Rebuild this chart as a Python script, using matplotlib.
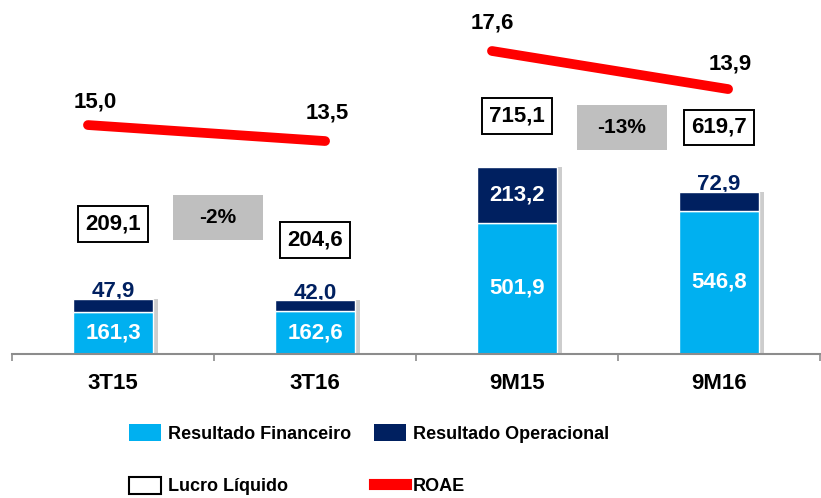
import matplotlib.pyplot as plt
from matplotlib.patches import Patch, Rectangle
from matplotlib.lines import Line2D

plt.rcParams['font.family'] = ['Liberation Sans', 'DejaVu Sans']

categories = ['3T15', '3T16', '9M15', '9M16']
financeiro = [161.3, 162.6, 501.9, 546.8]
operacional = [47.9, 42.0, 213.2, 72.9]
lucro = [209.1, 204.6, 715.1, 619.7]
roae_3t = [15.0, 13.5]
roae_9m = [17.6, 13.9]
variacao = ['-2%', '-13%']

LIGHT = '#00B0F0'
NAVY = '#002060'
RED = '#FF0000'
GRAY = '#BFBFBF'


def fmt(v):
    return f'{v:.1f}'.replace('.', ',')


fig = plt.figure(figsize=(8.21, 4.98), dpi=100)
ax = fig.add_axes([12 / 821, 144 / 498, 808 / 821, 354 / 498])
ax.set_xlim(-0.5, 3.5)
ax.set_ylim(0, 1353)

x = list(range(len(categories)))
w = 0.4

# shadow behind bars
ax.bar([i + 0.022 for i in x], lucro, w, color='#cdcdcd', zorder=1)
ax.bar(x, financeiro, w, color=LIGHT, edgecolor='white', linewidth=1, zorder=2)
ax.bar(x, operacional, w, bottom=financeiro, color=NAVY, edgecolor='white',
       linewidth=1, zorder=2)

for i in x:
    ax.text(i, financeiro[i] / 2, fmt(financeiro[i]), color='white',
            fontsize=16, fontweight='bold', ha='center', va='center', zorder=3)
    if operacional[i] > 100:
        ax.text(i, financeiro[i] + operacional[i] / 2, fmt(operacional[i]),
                color='white', fontsize=16, fontweight='bold',
                ha='center', va='center', zorder=3)
    else:
        ax.text(i, lucro[i] - 10, fmt(operacional[i]), color=NAVY,
                fontsize=16, fontweight='bold', ha='center', va='bottom',
                zorder=1.5)

# lucro liquido boxes
lucro_dy = [288, 231, 195, 246]
for i in x:
    ax.text(i, lucro[i] + lucro_dy[i], fmt(lucro[i]), fontsize=16,
            fontweight='bold', ha='center', va='center', zorder=4,
            bbox=dict(boxstyle='square,pad=0.33', fc='white', ec='black', lw=1.4))

# variation boxes
var_pos = [(0.52, 520), (2.52, 866)]
for (vx, vy), txt in zip(var_pos, variacao):
    ax.add_patch(Rectangle((vx - 0.223, vy - 86), 0.446, 172, fc=GRAY, ec='none',
                           zorder=3))
    ax.text(vx, vy, txt, fontsize=15, fontweight='bold', ha='center',
            va='center', zorder=4)

# axis style
for s in ['top', 'left', 'right']:
    ax.spines[s].set_visible(False)
ax.spines['bottom'].set_color('#8c8c8c')
ax.spines['bottom'].set_linewidth(1.5)
ax.set_yticks([])
ax.set_xticks(x, categories)
ax.tick_params(axis='x', length=0, pad=14, labelsize=16)
for lbl in ax.get_xticklabels():
    lbl.set_fontweight('bold')
ax.set_xticks([-0.5, 0.5, 1.5, 2.5, 3.5], minor=True)
ax.tick_params(axis='x', which='minor', length=5, width=1.2, color='#8c8c8c')

# ROAE lines (separate scales for each period)
ax2 = ax.twinx()
ax2.set_ylim(-6.46, 26.72)
ax3 = ax.twinx()
ax3.set_ylim(-11.82, 22.55)
roae_dy = [(5, 16.5), (1.5, 20.5), (0, 20.5), (1.5, 18)]
for axr, xs, vals, dys in [(ax2, [-0.124, 1.05], roae_3t, roae_dy[:2]),
                           (ax3, [1.876, 3.045], roae_9m, roae_dy[2:])]:
    axr.axis('off')
    axr.plot(xs, vals, color=RED, lw=7, solid_capstyle='round', zorder=5)
    for xx, v, d in zip(xs, vals, dys):
        axr.annotate(fmt(v), (xx, v), xytext=d, textcoords='offset points',
                     fontsize=16, fontweight='bold', ha='center', va='center')

handles = [Patch(fc=LIGHT), Patch(fc='white', ec='black', lw=1.5),
           Patch(fc=NAVY), Line2D([], [], color=RED, lw=8)]
labels = ['Resultado Financeiro', 'Lucro Líquido',
          'Resultado Operacional', 'ROAE']
fig.legend(handles, labels, ncol=2, loc='upper left',
           bbox_to_anchor=(129 / 821, 1 - 424 / 498), frameon=False,
           prop=dict(weight='bold', size=13), handlelength=1.75,
           handleheight=1.05, handletextpad=0.4, columnspacing=1.3,
           labelspacing=1.9, borderpad=0, borderaxespad=0)

fig.savefig('out.png', dpi=100)
